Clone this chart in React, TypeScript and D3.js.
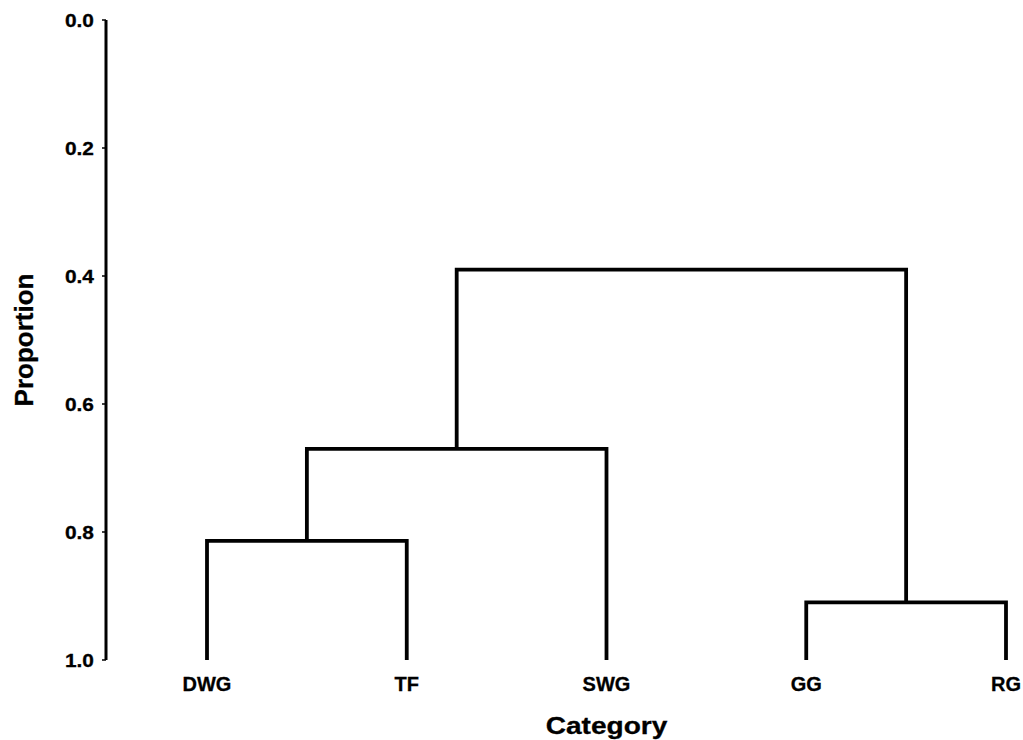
import React from "react";
import * as d3 from "d3";

// Leaf categories, left to right
const categories: string[] = ["DWG", "TF", "SWG", "GG", "RG"];

// Linkage rows: [left node, right node, merge height]; nodes 0..4 are leaves,
// node 5 + i is the cluster formed by row i
const linkLeft: number[] = [0, 5, 3, 6];
const linkRight: number[] = [1, 2, 4, 7];
const linkHeight: number[] = [0.814, 0.67, 0.91, 0.39];

// Axis ticks
const yTicks: number[] = [0, 0.2, 0.4, 0.6, 0.8, 1.0];

const W = 1023;
const H = 740;
const FONT = "'Liberation Sans', Arial, Helvetica, sans-serif";

export default function App() {
  const x = d3.scalePoint<string>().domain(categories).range([207, 1006]);
  const y = d3.scaleLinear().domain([0, 1]).range([20, 660]);

  // node positions: leaves sit at proportion 1.0
  const nodeX: number[] = categories.map((c) => x(c) as number);
  const nodeH: number[] = categories.map(() => 1.0);
  const paths: string[] = [];
  linkLeft.forEach((l, i) => {
    const r = linkRight[i];
    const h = linkHeight[i];
    const p = d3.path();
    p.moveTo(nodeX[l], y(nodeH[l]));
    p.lineTo(nodeX[l], y(h));
    p.lineTo(nodeX[r], y(h));
    p.lineTo(nodeX[r], y(nodeH[r]));
    paths.push(p.toString());
    nodeX.push((nodeX[l] + nodeX[r]) / 2);
    nodeH.push(h);
  });

  const axisX = 106;

  return (
    <svg
      width={W}
      height={H}
      style={{ position: "absolute", left: 0, top: 0, background: "#fff" }}
      fontFamily={FONT}
      fontWeight="bold"
    >
      <rect width={W} height={H} fill="#fff" />
      {/* y axis */}
      <line x1={axisX} x2={axisX} y1={y(0)} y2={y(1)} stroke="#000" strokeWidth={3} />
      {yTicks.map((t) => (
        <g key={t}>
          <line x1={axisX - 4} x2={axisX} y1={y(t)} y2={y(t)} stroke="#000" strokeWidth={1.5} />
          <text
            transform={`translate(${axisX - 12},${y(t) + 6.7}) scale(1.13,1)`}
            textAnchor="end"
            fontSize={18.5}
            fill="#000"
            stroke="#000"
            strokeWidth={0.3}
          >
            {d3.format(".1f")(t)}
          </text>
        </g>
      ))}
      <text
        transform={`translate(33,${(y(0) + y(1)) / 2}) rotate(-90)`}
        textAnchor="middle"
        fontSize={26}
        fill="#000"
        stroke="#000"
        strokeWidth={0.3}
      >
        Proportion
      </text>

      {/* dendrogram links */}
      {paths.map((d, i) => (
        <path key={i} d={d} fill="none" stroke="#000" strokeWidth={3.8} strokeLinejoin="miter" strokeLinecap="butt" />
      ))}

      {/* leaf labels */}
      {categories.map((c) => (
        <text key={c} x={x(c)} y={691} textAnchor="middle" fontSize={20} fill="#000" stroke="#000" strokeWidth={0.3}>
          {c}
        </text>
      ))}
      <text
        transform={`translate(${x("SWG")},734) scale(1.17,1)`}
        textAnchor="middle"
        fontSize={24}
        fill="#000"
        stroke="#000"
        strokeWidth={0.3}
      >
        Category
      </text>
    </svg>
  );
}
